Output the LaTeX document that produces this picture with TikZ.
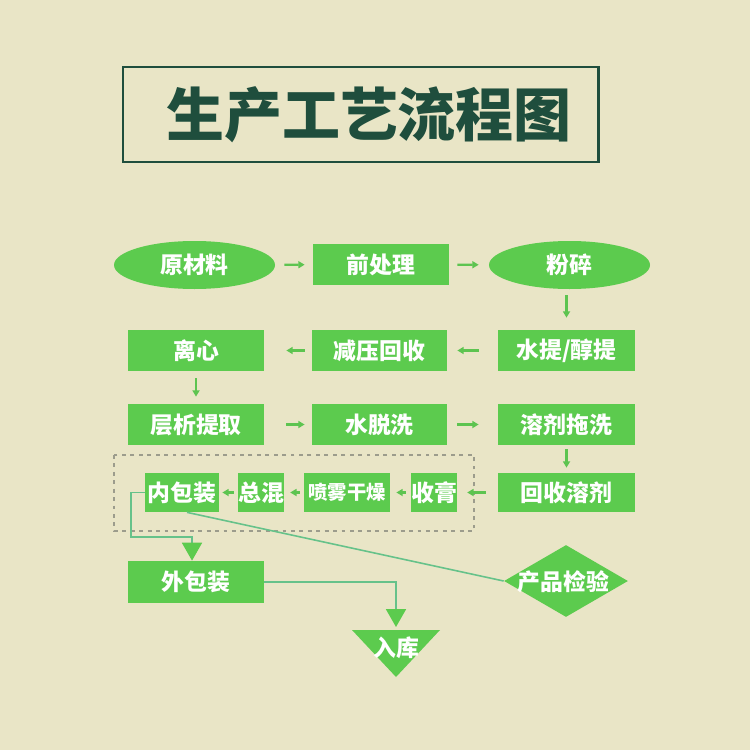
\documentclass[tikz,border=0pt]{standalone}
\usepackage{fontspec}
\setmainfont{Noto Sans CJK SC}
\usetikzlibrary{shapes.geometric,arrows.meta}
\newdimen\pxu \pxu=0.02cm
\definecolor{bg}{HTML}{E9E5C6}
\definecolor{boxg}{HTML}{5CCB4E}
\definecolor{dk}{HTML}{1F4E3D}
\definecolor{lineg}{HTML}{66C28A}
\definecolor{arrg}{HTML}{5DC450}
\definecolor{dashg}{HTML}{9C9C8C}
\begin{document}
\begin{tikzpicture}[x=0.02cm,y=-0.02cm,
  box/.style={fill=boxg,text=white,font=\bfseries\fontsize{13}{15}\selectfont,inner sep=0pt},
  rbox/.style={box,rectangle,minimum width=136\pxu,minimum height=41\pxu},
  ebox/.style={box,ellipse,minimum width=161\pxu,minimum height=48\pxu},
  sarr/.style={draw=arrg,line width=1.2pt,-{Triangle[length=3.6pt,width=4pt]}},
  conn/.style={draw=lineg,line width=0.9pt},
  bigtip/.style={-{Triangle[length=10.2pt,width=11.4pt,color=boxg]}},
  wtext/.style={text=white,font=\bfseries\fontsize{13}{15}\selectfont,inner sep=0pt}]
\useasboundingbox (0,0) rectangle (750,750);
\fill[bg] (0,0) rectangle (750,750);

% title
\node[draw=dk,line width=1.7pt,minimum width=475\pxu,minimum height=95\pxu,inner sep=0pt] (titlebox) at (360.5,114.5) {};
\node[text=dk,font=\bfseries\fontsize{33}{36}\selectfont,inner sep=0pt] (title) at (369,115) {生产工艺流程图};

% row 1
\node[ebox] (yuan) at (194.5,265) {原材料};
\node[rbox] (qian) at (381,264.5) {前处理};
\node[ebox] (fen) at (569.5,265) {粉碎};
% row 2
\node[rbox] (lixin) at (196,350.5) {离心};
\node[rbox,minimum width=135\pxu] (jianya) at (379.5,350.5) {减压回收};
\node[rbox,minimum width=137\pxu] (shuiti) at (566.5,350.5) {水提/醇提};
% row 3
\node[rbox] (cengxi) at (196,424.5) {层析提取};
\node[rbox,minimum width=135\pxu] (shuituo) at (379.5,424.5) {水脱洗};
\node[rbox,minimum width=137\pxu] (rongji) at (566.5,424.5) {溶剂拖洗};
% row 4
\node[rbox,minimum width=137\pxu,minimum height=39\pxu] (huishou) at (566.5,492.5) {回收溶剂};
\node[rbox,minimum width=44\pxu,minimum height=39\pxu] (shougao) at (434,492.5) {收膏};
\node[rbox,minimum width=86\pxu,minimum height=39\pxu,font=\bfseries\fontsize{11}{13}\selectfont] (penwu) at (347,492.5) {喷雾干燥};
\node[rbox,minimum width=44\pxu,minimum height=39\pxu] (zonghun) at (261,492.5) {总混};
\node[rbox,minimum width=74\pxu,minimum height=39\pxu] (neibao) at (182,492.5) {内包装};
% dashed group
\draw[dashg,line width=0.8pt,dash pattern=on 2.2pt off 2.6pt] (114,455) rectangle (474,531);
% bottom
\node[rbox,minimum height=42\pxu] (waibao) at (196,582) {外包装};
\fill[boxg] (352,630) -- (440,630) -- (396,677) -- cycle;
\node[wtext] (ruku) at (396,648) {入库};
\node[diamond,fill=boxg,minimum width=124\pxu,minimum height=72\pxu,inner sep=0pt] (jy) at (566,581) {};
\node[wtext] (jytext) at (563.5,582) {产品检验};

% small arrows
\draw[sarr,shorten <=9\pxu,shorten >=8\pxu] (yuan) -- (qian);
\draw[sarr,shorten <=8\pxu,shorten >=10\pxu] (qian) -- (fen);
\draw[sarr,shorten <=6\pxu,shorten >=12\pxu] (fen.south -| shuiti.north) -- (shuiti.north);
\draw[sarr,shorten <=19\pxu,shorten >=10\pxu] (shuiti) -- (jianya);
\draw[sarr,shorten <=7\pxu,shorten >=22\pxu] (jianya) -- (lixin);
\draw[sarr,shorten <=7\pxu,shorten >=7\pxu] (lixin) -- (cengxi);
\draw[sarr,shorten <=22\pxu,shorten >=7\pxu] (cengxi) -- (shuituo);
\draw[sarr,shorten <=10\pxu,shorten >=19\pxu] (shuituo) -- (rongji);
\draw[sarr,shorten <=4\pxu,shorten >=5\pxu] (rongji) -- (huishou);
\draw[sarr,shorten <=12\pxu,shorten >=10\pxu] (huishou) -- (shougao);
\draw[sarr,shorten <=5\pxu,shorten >=6\pxu] (shougao) -- (penwu);
\draw[sarr,shorten <=4\pxu,shorten >=6\pxu] (penwu) -- (zonghun);
\draw[sarr,shorten <=4\pxu,shorten >=3\pxu] (zonghun) -- (neibao);

% connectors
\coordinate (c1) at (131,537);
\coordinate (c2) at (192,537);
\coordinate (c3) at (396,582);
\coordinate (c4) at (396,627);
\draw[conn,bigtip] (neibao.west) -| (c1) -- (c2) -- (c2 |- waibao.north);
\draw[conn,bigtip] (waibao.east) -- (c3) -- (c4);
\draw[conn] ([xshift=5\pxu]neibao.south) -- (jy.west);
\end{tikzpicture}
\end{document}
